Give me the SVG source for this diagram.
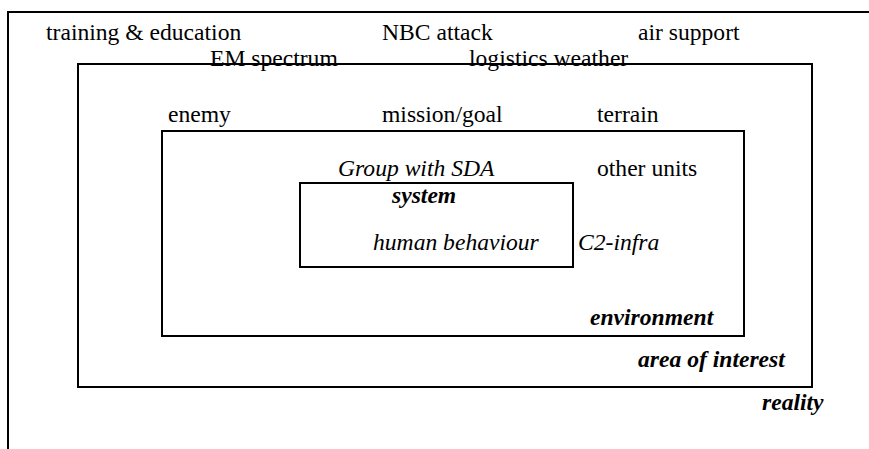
<svg xmlns="http://www.w3.org/2000/svg" width="869" height="449" viewBox="0 0 869 449">
<style>
.box{fill:none;stroke:#000;stroke-width:2}
text{font-family:"Liberation Serif","Times New Roman",serif;font-size:23.6px;fill:#000}
.i{font-style:italic}
.bi{font-style:italic;font-weight:bold}
</style>
<rect width="869" height="449" fill="#fff"/>
<g id="reality">
<path class="box" d="M8,449 V12 H869"/>
<text class="bi" x="762" y="410">reality</text>
</g>
<g id="area-of-interest">
<rect class="box" x="78" y="64" width="734" height="323"/>
<text class="bi" x="638" y="367">area of interest</text>
</g>
<g id="environment">
<rect class="box" x="162" y="131" width="582" height="205"/>
<text class="bi" x="590" y="325">environment</text>
</g>
<g id="system">
<rect class="box" x="300" y="183" width="273" height="84"/>
<text class="bi" x="392" y="203">system</text>
<text class="i" x="373" y="250">human behaviour</text>
</g>
<g id="labels">
<text x="46" y="40">training &amp; education</text>
<text x="382" y="40">NBC attack</text>
<text x="638" y="40">air support</text>
<text x="210" y="66">EM spectrum</text>
<text x="469" y="66">logistics weather</text>
<text x="168" y="122">enemy</text>
<text x="382" y="122">mission/goal</text>
<text x="597" y="122">terrain</text>
<text class="i" x="338" y="176">Group with SDA</text>
<text x="597" y="176">other units</text>
<text class="i" x="578" y="250">C2-infra</text>
</g>
</svg>
